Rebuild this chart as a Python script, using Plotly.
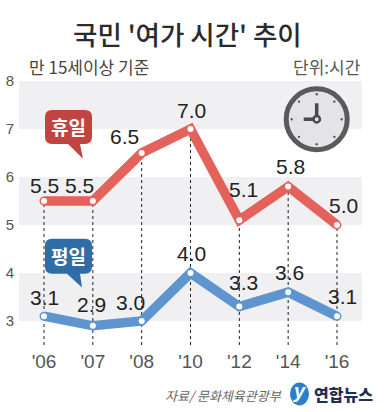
import math
import plotly.graph_objects as go

years = ["'06", "'07", "'08", "'10", "'12", "'14", "'16"]
holiday = [5.5, 5.5, 6.5, 7.0, 5.1, 5.8, 5.0]
weekday = [3.1, 2.9, 3.0, 4.0, 3.3, 3.6, 3.1]
holiday_text = ["5.5", "5.5", "6.5", "7.0", "5.1", "5.8", "5.0"]
weekday_text = ["3.1", "2.9", "3.0", "4.0", "3.3", "3.6", "3.1"]
holiday_shift = [(0, 16), (-13, 16), (-17, 17), (1, 19), (4, 31), (2, 20), (6, 20)]
weekday_shift = [(0, 19), (-1, 21), (-11, 19), (1, 20), (4, 24), (1, 20), (5, 20)]
y_ticks = [3, 4, 5, 6, 7, 8]
bands = [(7, 8), (5, 6), (3, 4)]

W, H = 384, 412
L, R, T, B = 19, 362, 81, 345.5
RED, BLUE = "#e3635c", "#5f95cf"
DARK_RED, DARK_BLUE = "#c0443f", "#2e6da8"
LATIN = "Liberation Sans"
KR = "Noto Sans CJK KR"


def px(x):
    return (x - L) / (R - L)


def py(y):
    return (B - y) / (B - T)


fig = go.Figure()

# drop lines from the red series down to the axis
dx, dy = [], []
for c, v in zip(years, holiday):
    dx += [c, c, None]
    dy += [2.5, v, None]
fig.add_trace(go.Scatter(x=dx, y=dy, mode="lines", hoverinfo="skip",
                         line=dict(color="#222222", width=1, dash="3px,3px")))

for vals, col in ((holiday, RED), (weekday, BLUE)):
    fig.add_trace(go.Scatter(x=years, y=vals, mode="lines+markers", hoverinfo="skip",
                             line=dict(color=col, width=9.5),
                             marker=dict(size=7.5, color="white", line=dict(color=col, width=1.5))))

shapes = []
for lo, hi in bands:
    shapes.append(dict(type="rect", xref="paper", yref="y", x0=0, x1=1, y0=lo, y1=hi,
                       fillcolor="#f0f0f2", line_width=0, layer="below"))


def bubble(x0, y0, x1, y1, r, tail, color):
    a, b, c = tail
    d = (f"M{px(x0+r)},{py(y0)} L{px(x1-r)},{py(y0)} Q{px(x1)},{py(y0)} {px(x1)},{py(y0+r)} "
         f"L{px(x1)},{py(y1-r)} Q{px(x1)},{py(y1)} {px(x1-r)},{py(y1)} "
         f"L{px(a[0])},{py(a[1])} L{px(b[0])},{py(b[1])} L{px(c[0])},{py(c[1])} "
         f"L{px(x0+r)},{py(y1)} Q{px(x0)},{py(y1)} {px(x0)},{py(y1-r)} "
         f"L{px(x0)},{py(y0+r)} Q{px(x0)},{py(y0)} {px(x0+r)},{py(y0)} Z")
    return dict(type="path", xref="paper", yref="paper", path=d, fillcolor=color, line_width=0)


shapes.append(bubble(45, 110, 92, 144, 7, ((80, 144), (83, 159), (68, 144)), DARK_RED))
shapes.append(bubble(45, 239, 92, 274, 7, ((80, 274), (82, 288), (67, 274)), DARK_BLUE))


def circle(cx, cy, r, fill, line=None, lw=0, ry=None):
    ry = ry or r
    return dict(type="circle", xref="paper", yref="paper",
                x0=px(cx - r), x1=px(cx + r), y0=py(cy + ry), y1=py(cy - ry),
                fillcolor=fill, line=dict(color=line or fill, width=lw))


# clock
CX, CY = 316.7, 119.3
shapes.append(circle(CX, CY, 30.5, "#e4e4e6", "#5a5a5c", 5))
for k in range(8):
    ang = math.radians(k * 45)
    x, y = CX + 25 * math.sin(ang), CY - 25 * math.cos(ang)
    shapes.append(circle(x, y, 1.2, "#555555"))
for x1, y1 in ((CX, CY - 16), (CX - 13, CY)):
    shapes.append(dict(type="line", xref="paper", yref="paper", x0=px(CX), y0=py(CY),
                       x1=px(x1), y1=py(y1), line=dict(color="#4a4a4c", width=3.5)))
shapes.append(circle(CX, CY, 3.2, "#e4e4e6", "#4a4a4c", 2.5))

# logo
shapes.append(circle(299.5, 394.5, 9.5, "#2a7fc9", ry=11.5))

ann = []


def label(text, x, y, size, color, font=KR, anchor="center", weight=None, style="normal"):
    ann.append(dict(text=text, xref="paper", yref="paper", x=px(x), y=py(y), showarrow=False,
                    xanchor=anchor, yanchor="middle",
                    font=dict(family=font, size=size, color=color, style=style,
                              weight=weight if weight else "normal")))


label("국민 '여가 시간' 추이", 187, 33, 26.5, "#2b2b2b", weight=500)
label("만 15세이상 기준", 27, 66, 17, "#444444", anchor="left")
label("단위:시간", 363, 66, 17, "#555555", anchor="right")
label("휴일", 68.5, 127, 19, "white", weight=700)
label("평일", 68.5, 256, 19, "white", weight=700)
label("자료/ 문화체육관광부", 284, 396, 13, "#666666", anchor="right", style="italic")
label("연합뉴스", 343, 394.5, 16, "#1f2f55", weight=900)
label("y", 299.5, 392, 20, "white", font=LATIN, weight=700, style="italic")

for texts, vals, shifts in ((holiday_text, holiday, holiday_shift), (weekday_text, weekday, weekday_shift)):
    for t, c, v, (sx, sy) in zip(texts, years, vals, shifts):
        ann.append(dict(text=t, x=c, y=v, xref="x", yref="y", showarrow=False,
                        xshift=sx, yshift=sy, yanchor="middle",
                        font=dict(family=LATIN, size=21, color="#222222")))

fig.update_layout(
    width=W, height=H, autosize=False, showlegend=False,
    paper_bgcolor="white", plot_bgcolor="white",
    margin=dict(l=L, r=W - R, t=T, b=H - B, pad=0),
    shapes=shapes, annotations=ann,
    xaxis=dict(type="category", categoryorder="array", categoryarray=years, automargin=False,
               range=[-0.512, 6.512], showgrid=False, zeroline=False, showline=False,
               ticks="", ticklabelstandoff=3,
               tickfont=dict(family=LATIN, size=19, color="#555555")),
    yaxis=dict(range=[2.5, 8], tickvals=y_ticks, showgrid=False, zeroline=False, showline=False,
               automargin=False, ticks="", ticklabelstandoff=4,
               tickfont=dict(family=LATIN, size=15, color="#555555")),
)
fig.write_html("out.html", config=dict(displayModeBar=False),
               post_script="document.body.style.margin='0';document.documentElement.style.overflow='hidden';")
